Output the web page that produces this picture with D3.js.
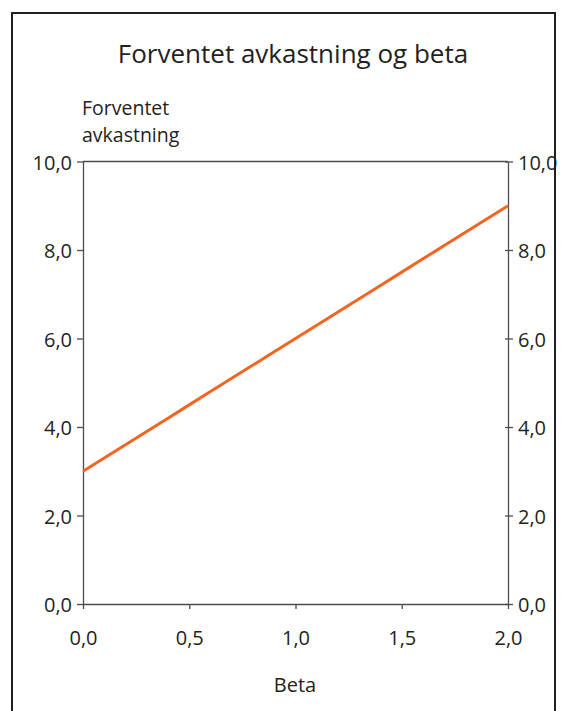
<!DOCTYPE html>
<html>
<head>
<meta charset="utf-8">
<script src="https://cdn.jsdelivr.net/npm/d3@7"></script>
<style>
  html, body { margin: 0; padding: 0; background: #fff; }
  svg { display: block; }
  text { font-family: "Open Sans", "Noto Sans", sans-serif; fill: #231f20; }
</style>
</head>
<body>
<svg id="chart" width="563" height="711"></svg>
<script>
// Expected return as a function of beta
const betas = [0.0, 0.1, 0.2, 0.3, 0.4, 0.5, 0.6, 0.7, 0.8, 0.9, 1.0,
               1.1, 1.2, 1.3, 1.4, 1.5, 1.6, 1.7, 1.8, 1.9, 2.0];
const returns = [3.0, 3.3, 3.6, 3.9, 4.2, 4.5, 4.8, 5.1, 5.4, 5.7, 6.0,
                 6.3, 6.6, 6.9, 7.2, 7.5, 7.8, 8.1, 8.4, 8.7, 9.0];
const xTicks = [0, 0.5, 1.0, 1.5, 2.0];
const yTicks = [0, 2, 4, 6, 8, 10];

const title = "Forventet avkastning og beta";
const yTitle = ["Forventet", "avkastning"];
const xTitle = "Beta";

const svg = d3.select("#chart");
const plot = { left: 83, right: 508, top: 161.5, bottom: 604 };

// outer frame
svg.append("rect")
  .attr("x", 12).attr("y", 13)
  .attr("width", 543).attr("height", 720)
  .attr("fill", "none").attr("stroke", "#231f20").attr("stroke-width", 2);

const x = d3.scaleLinear().domain([0, 2]).range([plot.left, plot.right]);
const y = d3.scaleLinear().domain([0, 10]).range([plot.bottom, plot.top]);
const fmt = d => d3.format(".1f")(d).replace(".", ",");

const axisColor = "#4d4d4f";

// top border of plot area
svg.append("line")
  .attr("x1", plot.left).attr("x2", plot.right)
  .attr("y1", y(10)).attr("y2", y(10))
  .attr("stroke", axisColor).attr("stroke-width", 1.3);

function styleAxis(g) {
  g.selectAll("path, line").attr("stroke", axisColor).attr("stroke-width", 1.3);
  g.selectAll("text").attr("font-size", 20).attr("fill", "#231f20")
    .attr("font-family", "'Open Sans', 'Noto Sans', sans-serif");
}

svg.append("g")
  .attr("transform", `translate(${plot.left},0)`)
  .call(d3.axisLeft(y).tickValues(yTicks).tickFormat(fmt).tickSize(6).tickSizeOuter(0).tickPadding(5))
  .call(styleAxis)
  .selectAll("text").attr("dy", "0.38em");

const right = svg.append("g")
  .attr("transform", `translate(${plot.right},0)`)
  .call(d3.axisRight(y).tickValues(yTicks).tickFormat(fmt).tickSize(5).tickSizeOuter(0).tickPadding(5))
  .call(styleAxis);
right.selectAll("text").attr("dy", "0.38em");
right.selectAll(".tick line").attr("x1", -3);

svg.append("g")
  .attr("transform", `translate(0,${plot.bottom})`)
  .call(d3.axisBottom(x).tickValues(xTicks).tickFormat(fmt).tickSize(5).tickSizeOuter(0).tickPadding(22))
  .call(styleAxis);

// the line
const line = d3.line()
  .x((d, i) => x(betas[i]))
  .y(d => y(d));

svg.append("path")
  .datum(returns)
  .attr("d", line)
  .attr("fill", "none")
  .attr("stroke", "#f26522")
  .attr("stroke-width", 3)
  .attr("stroke-linejoin", "round");

// titles
svg.append("text")
  .attr("x", 293).attr("y", 63)
  .attr("text-anchor", "middle")
  .attr("font-size", 26)
  .text(title);

yTitle.forEach((t, i) => {
  svg.append("text")
    .attr("x", 82).attr("y", 115 + i * 27)
    .attr("font-size", 19.5)
    .text(t);
});

svg.append("text")
  .attr("x", 295).attr("y", 692)
  .attr("text-anchor", "middle")
  .attr("font-size", 20)
  .text(xTitle);
</script>
</body>
</html>
